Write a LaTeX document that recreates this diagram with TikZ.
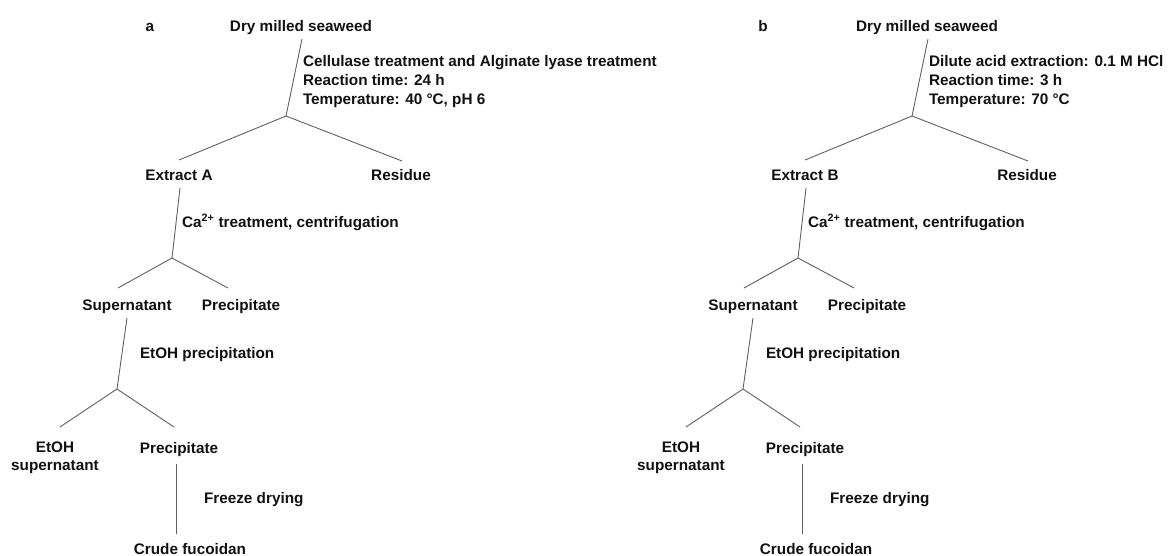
\documentclass[tikz,border=0pt]{standalone}
\usepackage{fontspec}
\setmainfont{Liberation Sans}
\definecolor{linegray}{HTML}{606060}
\definecolor{txt}{HTML}{111111}
\tikzset{
  lbl/.style={inner sep=0pt, outer sep=0pt, text=txt, font=\fontsize{15.3}{19}\selectfont\bfseries, text height=11pt, text depth=3.2pt, anchor=base},
  note/.style={inner sep=0pt, outer sep=0pt, text=txt, font=\fontsize{15.3}{19}\selectfont\bfseries, text height=11pt, text depth=3.2pt, anchor=base west},
  annot/.style={inner sep=0pt, outer sep=0pt, text=txt, font=\fontsize{15.3}{19}\selectfont\bfseries, align=left, anchor=north west},
  multi/.style={inner sep=0pt, outer sep=0pt, text=txt, font=\fontsize{15.3}{18}\selectfont\bfseries, align=center, anchor=north},
  link/.style={draw=linegray, line width=0.9pt}
}
\newcommand\fucpanel[5]{%
  \node[lbl] (#1dry) at (301,31) {Dry milled seaweed};
  \node[annot] (#1cond) at (303,55) {#3\\#4\\#5};
  \coordinate (#1b1) at (286,116);
  \node[lbl] (#1ext) at (179,180) {#2};
  \node[lbl] (#1res) at (401,180) {Residue};
  \node[note] (#1ca) at (182,227) {Ca\textsuperscript{2+} treatment, centrifugation};
  \coordinate (#1b2) at (172,258);
  \node[lbl] (#1sup) at (127,310) {Supernatant};
  \node[lbl] (#1pre1) at (241,310) {Precipitate};
  \node[note] (#1eth) at (140,358) {EtOH precipitation};
  \coordinate (#1b3) at (117,389);
  \node[multi] (#1etsup) at (55,442) {EtOH\\supernatant};
  \node[lbl] (#1pre2) at (179,453) {Precipitate};
  \node[note] (#1fd) at (204,503) {Freeze drying};
  \node[lbl] (#1crude) at (190,554) {Crude fucoidan};
  \draw[link] ([xshift=1pt,yshift=-4.8pt]#1dry.south) -- (#1b1);
  \draw[link] (#1b1) -- ([xshift=0pt,yshift=9pt]#1ext.north);
  \draw[link] (#1b1) -- ([xshift=1pt,yshift=8pt]#1res.north);
  \draw[link] ([xshift=1pt,yshift=-4.8pt]#1ext.south) -- (#1b2);
  \draw[link] (#1b2) -- ([xshift=-9pt,yshift=11pt]#1sup.north);
  \draw[link] (#1b2) -- ([xshift=-13pt,yshift=11pt]#1pre1.north);
  \draw[link] ([yshift=-4.8pt]#1sup.south) -- (#1b3);
  \draw[link] (#1b3) -- ([xshift=5pt,yshift=15pt]#1etsup.north);
  \draw[link] (#1b3) -- ([xshift=-5pt,yshift=15pt]#1pre2.north);
  \draw[link] ([xshift=-3pt,yshift=-8pt]#1pre2.south) -- ([xshift=-14pt,yshift=9pt]#1crude.north);
}
\begin{document}
\begin{tikzpicture}[x=1pt,y=-1pt]
  \useasboundingbox (0,0) rectangle (1169,555);
  \node[lbl] (labela) at (150,31) {a};
  \node[lbl] (labelb) at (763,31) {b};
  \fucpanel{a}{Extract A}{Cellulase treatment and Alginate lyase treatment}{Reaction time:  24 h}{Temperature:  40 °C, pH 6}
  \begin{scope}[xshift=626pt]
    \fucpanel{b}{Extract B}{Dilute acid extraction:  0.1 M HCl}{Reaction time:  3 h}{Temperature:  70 °C}
  \end{scope}
\end{tikzpicture}
\end{document}
